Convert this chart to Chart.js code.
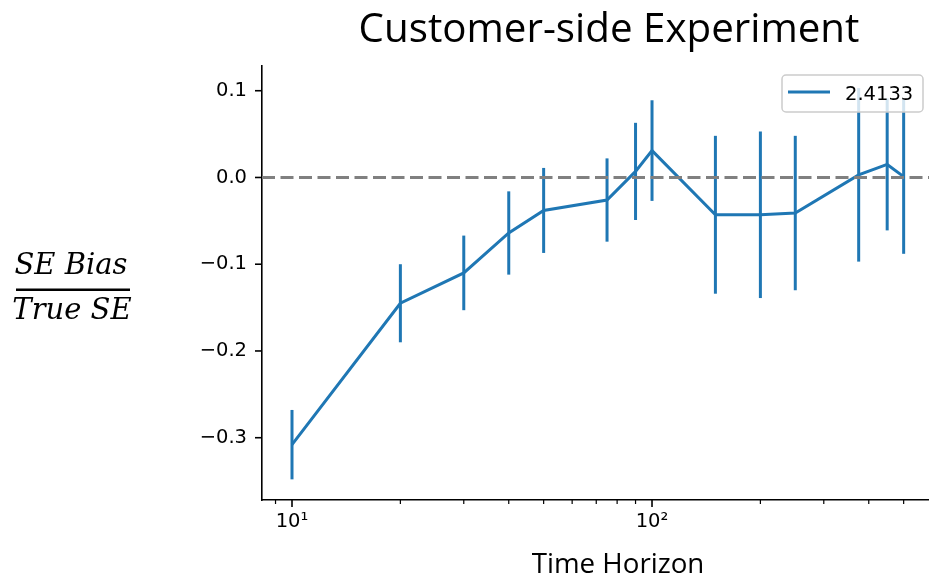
<!DOCTYPE html>
<html>
<head>
<meta charset="utf-8">
<script src="https://cdn.jsdelivr.net/npm/chart.js@4.4.0/dist/chart.umd.min.js"></script>
<style>
  html, body { margin: 0; padding: 0; background: #ffffff; }
  canvas { display: block; }
</style>
</head>
<body>
<canvas id="chart" width="929" height="577"></canvas>
<script>
// Time horizons (log x axis) and the relative SE bias at each one
const horizons   = [10, 20, 30, 40, 50, 75, 90, 100, 150, 200, 250, 375, 450, 500];
const seBias     = [-0.308, -0.145, -0.110, -0.064, -0.038, -0.026, 0.007, 0.031, -0.043, -0.043, -0.041, 0.003, 0.015, 0.001];
const seBiasErr  = [0.040, 0.045, 0.043, 0.048, 0.049, 0.048, 0.056, 0.058, 0.091, 0.096, 0.089, 0.100, 0.076, 0.089];

// Axis ticks
const xTickValues = [9, 10, 20, 30, 40, 50, 60, 70, 80, 90, 100, 200, 300, 400, 500];
const xMajorTicks = [10, 100];
const xTickLabels = ['10\u00B9', '10\u00B2'];
const yTickValues = [-0.3, -0.2, -0.1, 0.0, 0.1];

// Text
const seriesLabel = '2.4133';
const chartTitle  = 'Customer-side Experiment';
const xAxisTitle  = 'Time Horizon';
const yTitleNum   = 'SE Bias';
const yTitleDen   = 'True SE';

const BLUE = '#1f77b4';
const TICK_FONT = '"DejaVu Sans", sans-serif';
const TEXT_FONT = '"Open Sans", Lato, sans-serif';

// Vertical error bars plus the dashed zero reference line
const errorBarsAndZero = {
  id: 'errorBarsAndZero',
  afterDatasetsDraw(chart) {
    const { ctx, chartArea, scales: { x, y } } = chart;
    ctx.save();
    ctx.strokeStyle = BLUE;
    ctx.lineWidth = 3;
    horizons.forEach((h, i) => {
      const px = x.getPixelForValue(h);
      ctx.beginPath();
      ctx.moveTo(px, y.getPixelForValue(seBias[i] - seBiasErr[i]));
      ctx.lineTo(px, y.getPixelForValue(seBias[i] + seBiasErr[i]));
      ctx.stroke();
    });
    const y0 = y.getPixelForValue(0);
    ctx.strokeStyle = '#808080';
    ctx.lineWidth = 3;
    ctx.setLineDash([13, 5.5]);
    ctx.beginPath();
    ctx.moveTo(chartArea.left, y0);
    ctx.lineTo(chartArea.right, y0);
    ctx.stroke();
    ctx.restore();
  }
};

// Outward tick marks (long for majors, short for log minors), titles and legend
const decorations = {
  id: 'decorations',
  afterDraw(chart) {
    const { ctx, chartArea, scales: { x, y } } = chart;
    ctx.save();
    ctx.strokeStyle = '#000';
    ctx.setLineDash([]);
    xTickValues.forEach(v => {
      const px = x.getPixelForValue(v);
      const major = xMajorTicks.includes(v);
      ctx.lineWidth = major ? 1.6 : 1.2;
      ctx.beginPath();
      ctx.moveTo(px, chartArea.bottom);
      ctx.lineTo(px, chartArea.bottom + (major ? 7 : 4));
      ctx.stroke();
    });
    ctx.lineWidth = 1.6;
    yTickValues.forEach(v => {
      const py = y.getPixelForValue(v);
      ctx.beginPath();
      ctx.moveTo(chartArea.left, py);
      ctx.lineTo(chartArea.left - 7, py);
      ctx.stroke();
    });

    // Title
    ctx.fillStyle = '#000';
    ctx.textAlign = 'center';
    ctx.textBaseline = 'alphabetic';
    ctx.font = '40.3px ' + TEXT_FONT;
    ctx.fillText(chartTitle, 609, 42);

    // X axis title
    ctx.font = '27.7px ' + TEXT_FONT;
    ctx.fillText(xAxisTitle, 618, 573);

    // Y axis title as a fraction
    ctx.font = 'italic 29px "DejaVu Serif", serif';
    ctx.fillText(yTitleNum, 71, 274);
    ctx.fillText(yTitleDen, 72, 319);
    ctx.fillRect(16, 288.5, 114, 2.5);

    // Legend
    const lx = 782, ly = 75, lw = 141, lh = 37;
    ctx.fillStyle = 'rgba(255,255,255,0.8)';
    ctx.strokeStyle = '#cccccc';
    ctx.lineWidth = 1.5;
    ctx.beginPath();
    ctx.roundRect(lx, ly, lw, lh, 4);
    ctx.fill();
    ctx.stroke();
    ctx.strokeStyle = BLUE;
    ctx.lineWidth = 3;
    ctx.beginPath();
    ctx.moveTo(788, 92);
    ctx.lineTo(830, 92);
    ctx.stroke();
    ctx.fillStyle = '#000';
    ctx.textAlign = 'left';
    ctx.font = '19.5px ' + TICK_FONT;
    ctx.fillText(chart.data.datasets[0].label, 845, 99.5);
    ctx.restore();
  }
};

new Chart(document.getElementById('chart'), {
  type: 'line',
  data: {
    datasets: [{
      label: seriesLabel,
      data: horizons.map((h, i) => ({ x: h, y: seBias[i] })),
      borderColor: BLUE,
      backgroundColor: BLUE,
      borderWidth: 3,
      pointRadius: 0,
      pointHoverRadius: 0,
      tension: 0,
      fill: false
    }]
  },
  options: {
    responsive: false,
    animation: false,
    events: [],
    layout: { padding: { left: 0, right: 0, top: 66, bottom: 0 } },
    plugins: {
      legend: { display: false },
      title: { display: false },
      tooltip: { enabled: false }
    },
    scales: {
      x: {
        type: 'logarithmic',
        min: 8.254,
        max: 588,
        grid: { display: false, drawTicks: false },
        border: { display: true, color: '#000', width: 1.6 },
        afterBuildTicks(scale) {
          scale.ticks = xTickValues.map(v => ({ value: v, major: xMajorTicks.includes(v) }));
        },
        afterFit(scale) { scale.height = 77; },
        ticks: {
          autoSkip: false,
          maxRotation: 0,
          minRotation: 0,
          padding: 10,
          color: '#000',
          font: { family: TICK_FONT, size: 19.5 },
          callback(value) {
            const k = xMajorTicks.indexOf(value);
            return k >= 0 ? xTickLabels[k] : '';
          }
        }
      },
      y: {
        type: 'linear',
        min: -0.3718,
        max: 0.1285,
        grid: { display: false, drawTicks: false },
        border: { display: true, color: '#000', width: 1.6 },
        afterBuildTicks(scale) {
          scale.ticks = yTickValues.map(v => ({ value: v }));
        },
        afterFit(scale) { scale.width = 262; },
        ticks: {
          padding: 15,
          color: '#000',
          font: { family: TICK_FONT, size: 19.5 },
          callback(value) {
            return Number(value).toFixed(1).replace('-', '\u2212');
          }
        }
      }
    }
  },
  plugins: [errorBarsAndZero, decorations]
});
</script>
</body>
</html>
